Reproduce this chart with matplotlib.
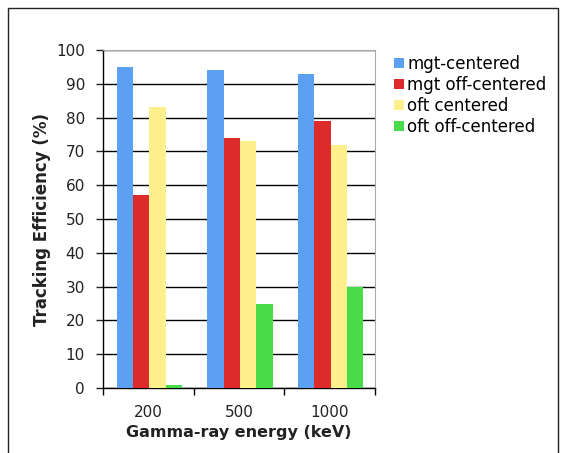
import matplotlib
matplotlib.use("Agg")
import matplotlib.pyplot as plt
from matplotlib.patches import Rectangle
import numpy as np

categories = ["200", "500", "1000"]
series_names = ["mgt-centered", "mgt off-centered", "oft centered", "oft off-centered"]
mgt_centered = [95, 94, 93]
mgt_off_centered = [57, 74, 79]
oft_centered = [83, 73, 72]
oft_off_centered = [1, 25, 30]
colors = ["#5ca0f2", "#dd2a2a", "#fdf08c", "#48dc48"]

plt.rcParams['font.family'] = ['DejaVu Sans']

fig = plt.figure(figsize=(5.64, 4.53), dpi=100)
fig.patches.append(Rectangle((8/564, -0.1), (558-8)/564, 1.1 - 8/453, transform=fig.transFigure,
                             fill=False, edgecolor="#222222", linewidth=1.0))
ax = fig.add_axes([103/564, 1-388/453, (375-103)/564, (388-50)/453])

x = np.arange(len(categories))
w = 0.18
data = [mgt_centered, mgt_off_centered, oft_centered, oft_off_centered]
for i, (vals, name, c) in enumerate(zip(data, series_names, colors)):
    ax.bar(x + (i - 1.5) * w + 0.01, vals, width=w, color=c, label=name, zorder=3, linewidth=0)

ax.set_xlim(-0.5, 2.5)
ax.set_ylim(0, 100)
ax.set_yticks(np.arange(0, 101, 10))
ax.yaxis.grid(True, color="black", linewidth=1.0, zorder=0)
ax.set_axisbelow(True)
ax.set_xticks(x)
ax.set_xticklabels(categories)
ax.set_xticks([-0.5, 0.5, 1.5, 2.5], minor=True)
ax.tick_params(axis='x', which='major', length=0, pad=12, labelsize=11, colors="#222222")
ax.tick_params(axis='x', which='minor', length=5, direction='out', width=1)
ax.tick_params(axis='y', length=5, direction='out', width=1, labelsize=11, pad=8, colors="#222222")
for s in ["top", "right"]:
    ax.spines[s].set_color("#aaaaaa")
    ax.spines[s].set_linewidth(0.8)
for s in ["left", "bottom"]:
    ax.spines[s].set_color("black")
    ax.spines[s].set_linewidth(1.0)

ax.set_xlabel("Gamma-ray energy (keV)", fontweight="bold", fontsize=11.5, labelpad=4, color="#222222")
ax.set_ylabel("Tracking Efficiency (%)", fontweight="bold", fontsize=12, labelpad=4, color="#222222")

ax.legend(loc="upper left", bbox_to_anchor=(1.07, 0.985), frameon=False, fontsize=12,
          handlelength=0.6, handleheight=0.6, handletextpad=0.2, labelspacing=0.18,
          borderaxespad=0, borderpad=0)

fig.savefig("out.png", dpi=100)
